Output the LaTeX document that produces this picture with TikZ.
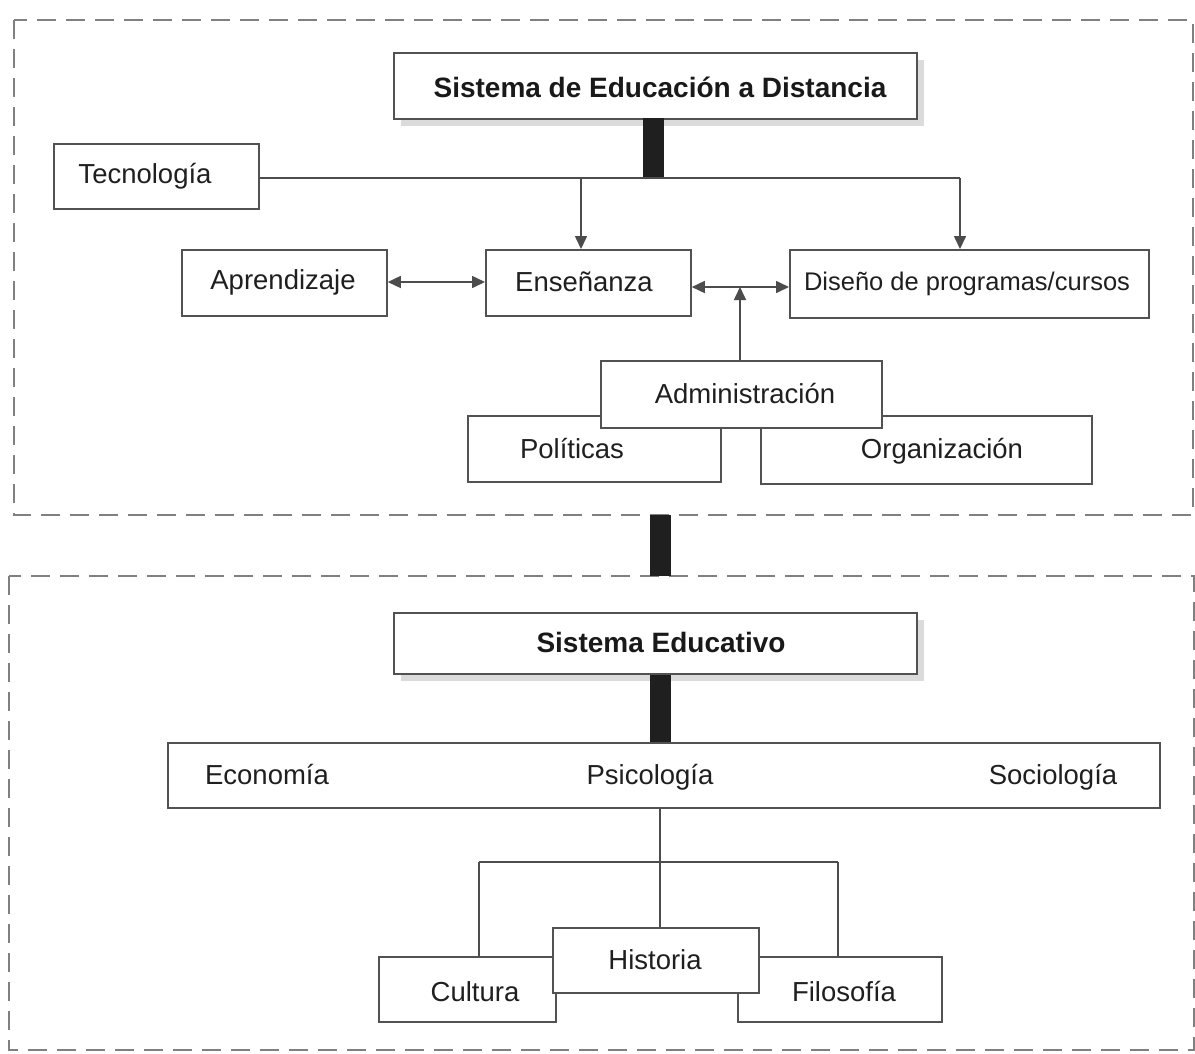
\documentclass[tikz,border=0pt]{standalone}
\usepackage{fontspec}
\setmainfont{Liberation Sans}
\usetikzlibrary{arrows.meta}
\begin{document}
\begin{tikzpicture}[x=1pt,y=-1pt,
  box/.style={draw=black!68,line width=1.8pt,fill=white,inner sep=0pt,anchor=north west},
  lbl/.style={text=black!88,font=\fontsize{27.5}{32}\selectfont,inner sep=0pt},
  title/.style={text=black!90,font=\bfseries\fontsize{28}{33}\selectfont,inner sep=0pt},
  frame/.style={draw=black!50,line width=2pt,dash pattern=on 19pt off 10pt},
  link/.style={draw=black!70,line width=1.6pt},
  arr/.style={link,-{Triangle[length=13pt,width=12pt]}},
  darr/.style={link,{Triangle[length=13pt,width=12pt]}-{Triangle[length=13pt,width=12pt]}},
  bar/.style={line width=21pt,draw=black!88},
  shadow/.style={fill=black!14}]
\useasboundingbox (0,0) rectangle (1195,1053);
\fill[white] (0,0) rectangle (1195,1053);

% dashed frames of the two systems
\draw[frame] (14,20) rectangle (1193,515);
\draw[frame] (9,576) rectangle (1194,1050);

% ---------- distance education system ----------
\fill[shadow] (401,60) rectangle (924,126);
\node[box,minimum width=523pt,minimum height=66pt] (sed) at (393,52) {};
\node[title] (tsed) at (660,87) {Sistema de Educación a Distancia};

\node[box,minimum width=205pt,minimum height=65pt] (tec) at (53,143) {};
\node[lbl] (ttec) at (145,176) {Tecnología};

\node[box,minimum width=205pt,minimum height=66pt] (apr) at (181,249) {};
\node[lbl] (tapr) at (283,282) {Aprendizaje};

\node[box,minimum width=205pt,minimum height=66pt] (ens) at (485,249) {};
\node[lbl] (tens) at (584,282) {Enseñanza};

\node[box,minimum width=359pt,minimum height=68pt] (dis) at (789,249) {};
\node[lbl,font=\fontsize{25.5}{30}\selectfont] (tdis) at (967,284) {Diseño de programas/cursos};

\node[box,minimum width=253pt,minimum height=66pt] (pol) at (467,415) {};
\node[lbl] (tpol) at (572,449) {Políticas};

\node[box,minimum width=331pt,minimum height=68pt] (org) at (760,415) {};
\node[lbl] (torg) at (942,451) {Organización};

\node[box,minimum width=281pt,minimum height=67pt] (adm) at (600,360) {};
\node[lbl] (tadm) at (745,394) {Administración};

% connectors
\coordinate (b1top) at (653.5,118);
\coordinate (hub) at (653.5,178);
\draw[bar] (b1top) -- (hub);
\coordinate (jens) at (581,178);
\coordinate (jdis) at (960,178);
\draw[link] (tec.east |- hub) -- (jdis);
\draw[arr] (jens) -- (jens |- ens.north);
\draw[arr] (jdis) -- (jdis |- dis.north);
\draw[darr] (apr.east |- 0,282) -- (ens.west |- 0,282);
\coordinate (jadm) at (740,287);
\draw[darr] (ens.east |- jadm) -- (dis.west |- jadm);
\draw[arr] (adm.north -| jadm) -- (jadm);

% link between the two systems
\coordinate (b2top) at (660.5,515);
\coordinate (b2bot) at (660.5,576);
\draw[bar] (b2top) -- (b2bot);

% ---------- educational system ----------
\fill[shadow] (401,620) rectangle (924,681);
\node[box,minimum width=523pt,minimum height=61pt] (se) at (393,612) {};
\node[title] (tse) at (661,642) {Sistema Educativo};

\node[box,minimum width=992pt,minimum height=65pt] (dis2) at (167,742) {};
\node[lbl,anchor=base] (teco) at (267,784) {Economía};
\node[lbl,anchor=base] (tpsi) at (650,784) {Psicología};
\node[lbl,anchor=base] (tsoc) at (1053,784) {Sociología};

\draw[bar] (se.south -| b2top) -- (dis2.north -| b2top);

\coordinate (jl) at (479,862);
\coordinate (jr) at (838,862);
\draw[link] (jl) -- (jr);

\node[box,minimum width=177pt,minimum height=65pt] (cul) at (378,956) {};
\node[lbl,anchor=base] (tcul) at (475,1001) {Cultura};

\node[box,minimum width=204pt,minimum height=65pt] (fil) at (737,956) {};
\node[lbl,anchor=base] (tfil) at (844,1001) {Filosofía};

\draw[link] (jl) -- (jl |- cul.north);
\draw[link] (jr) -- (jr |- fil.north);

\node[box,minimum width=206pt,minimum height=65pt] (his) at (552,927) {};
\node[lbl] (this) at (655,960) {Historia};

\draw[link] (dis2.south -| 660,0) -- (his.north -| 660,0);
\end{tikzpicture}
\end{document}
